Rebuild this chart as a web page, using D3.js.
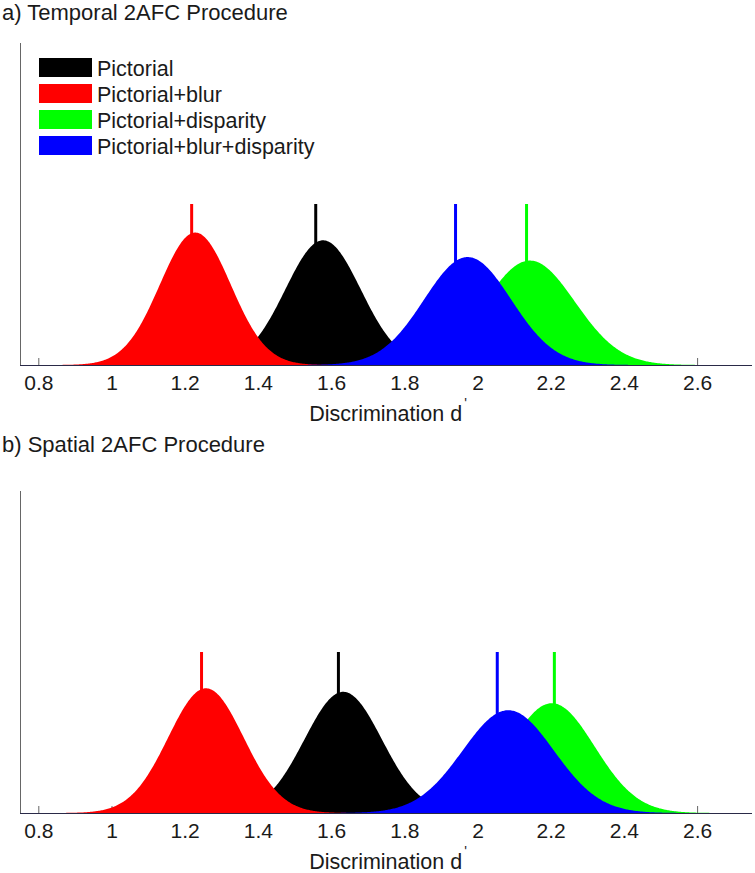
<!DOCTYPE html>
<html><head><meta charset="utf-8">
<script src="https://cdn.jsdelivr.net/npm/d3@7"></script>
<style>
body{margin:0;background:#fff}
svg{display:block}
text{font-family:"Liberation Sans",Arial,Helvetica,sans-serif;fill:#1a1a1a}
</style>
</head><body>
<svg id="chart" width="755" height="873"></svg>
<script>
// ---- data ----
const categories = ["Pictorial", "Pictorial+blur", "Pictorial+disparity", "Pictorial+blur+disparity"];
const seriesColors = ["#000000", "#ff0000", "#00ff00", "#0000ff"];

// a) Temporal 2AFC: distribution centre, spread, and measured value (vertical marker)
const temporalMeans   = [1.578, 1.229, 2.143, 1.973];
const temporalSDs     = [0.103, 0.097, 0.123, 0.119];
const temporalMarkers = [1.558, 1.219, 2.134, 1.940];

// b) Spatial 2AFC
const spatialMeans   = [1.633, 1.258, 2.203, 2.084];
const spatialSDs     = [0.106, 0.103, 0.117, 0.125];
const spatialMarkers = [1.620, 1.246, 2.210, 2.054];

const xTicks = [0.8, 1, 1.2, 1.4, 1.6, 1.8, 2, 2.2, 2.4, 2.6];
const xDomain = [0.75, 2.75];
const yMax = 10;
const markerTop = 5;
const panelTitles = ["a) Temporal 2AFC Procedure", "b) Spatial 2AFC Procedure"];
const xLabel = "Discrimination d";

// ---- drawing ----
const svg = d3.select("#chart");
const x = d3.scaleLinear().domain(xDomain).range([20, 752]);
const grid = d3.range(xDomain[0], xDomain[1] + 1e-9, 0.0025);

function pdf(v, m, s) {
  return Math.exp(-0.5 * ((v - m) / s) ** 2) / (s * Math.sqrt(2 * Math.PI));
}

function panel(top, titleY, title, means, sds, markers, showLegend) {
  const h = 322;
  const y = d3.scaleLinear().domain([0, yMax]).range([top + h, top]);
  const g = svg.append("g");

  g.append("text").attr("x", 2).attr("y", titleY)
    .style("font-size", "22px").text(title);

  // ticks + labels (under the fills)
  const axis = d3.axisBottom(x).tickValues(xTicks).tickSizeInner(-7).tickSizeOuter(0)
    .tickPadding(10.5).tickFormat(d3.format("~g"));
  const ax = g.append("g").attr("transform", `translate(0,${top + h})`).call(axis);
  ax.select(".domain").remove();
  ax.selectAll(".tick line").attr("stroke", "#666");
  ax.selectAll(".tick text").style("font-size", "21px")
    .style("font-family", '"Liberation Sans",Arial,sans-serif').attr("fill", "#1a1a1a");

  // vertical markers (behind fills)
  g.selectAll("line.marker").data(markers).join("line")
    .attr("class", "marker")
    .attr("x1", d => x(d)).attr("x2", d => x(d))
    .attr("y1", y(0)).attr("y2", y(markerTop))
    .attr("stroke", (d, i) => seriesColors[i]).attr("stroke-width", 3);

  // filled distributions, in legend order
  const area = d3.area().x(d => x(d[0])).y0(y(0)).y1(d => y(d[1])).curve(d3.curveLinear);
  means.forEach((m, i) => {
    const pts = grid.map(v => [v, pdf(v, m, sds[i])]);
    g.append("path").attr("d", area(pts)).attr("fill", seriesColors[i]);
  });

  // axis lines
  g.append("line").attr("x1", 20).attr("x2", 752).attr("y1", top + h + 0.5).attr("y2", top + h + 0.5)
    .attr("stroke", "#2a2a48").attr("stroke-width", 1);
  g.append("line").attr("x1", 20.5).attr("x2", 20.5).attr("y1", top).attr("y2", top + h)
    .attr("stroke", "#666").attr("stroke-width", 1);

  // x label with prime
  const t = g.append("text").attr("x", 388).attr("y", top + h + 56)
    .attr("text-anchor", "middle").style("font-size", "21.5px");
  t.append("tspan").text(xLabel);
  t.append("tspan").attr("dx", 2).attr("dy", -13).style("font-size", "14px").text("'");

  if (showLegend) {
    const lg = g.append("g");
    categories.forEach((c, i) => {
      lg.append("rect").attr("x", 39).attr("y", 58 + 26 * i).attr("width", 53).attr("height", 19)
        .attr("fill", seriesColors[i]);
      lg.append("text").attr("x", 97).attr("y", 76 + 26 * i).style("font-size", "21.5px").text(c);
    });
  }
}

panel(43, 20, panelTitles[0], temporalMeans, temporalSDs, temporalMarkers, true);
panel(491, 452, panelTitles[1], spatialMeans, spatialSDs, spatialMarkers, false);
</script>
</body></html>
